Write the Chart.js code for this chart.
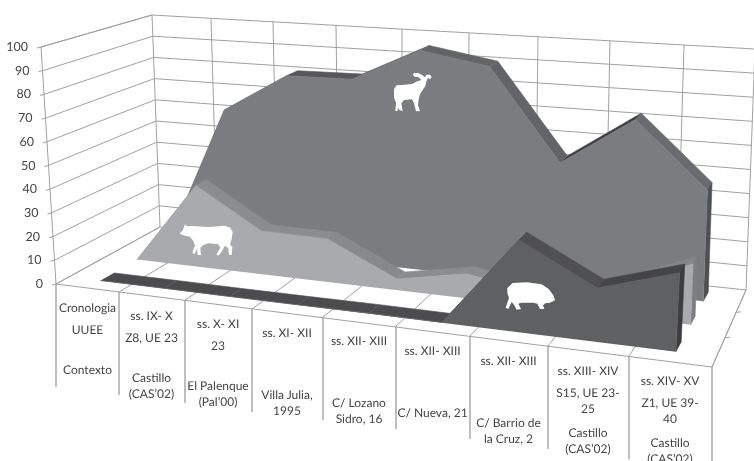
<!DOCTYPE html>
<html><head><meta charset="utf-8">
<style>html,body{margin:0;padding:0;background:#fff;overflow:hidden}canvas{display:block}</style>
<script src="https://cdn.jsdelivr.net/npm/chart.js@4"></script>
</head><body><canvas id="c" width="754" height="461" style="width:754px;height:461px"></canvas>
<script>
// ---- data ----
const cronologia = ["Cronologia","ss. IX- X","ss. X- XI","ss. XI- XII","ss. XII- XIII","ss. XII- XIII","ss. XII- XIII","ss. XIII- XIV","ss. XIV- XV"];
const uuee = [["UUEE"],["Z8, UE 23"],["23"],[],[],[],[],["S15, UE 23-","25"],["Z1, UE 39-","40"]];
const contexto = [["Contexto"],["Castillo","(CAS’02)"],["El Palenque","(Pal’00)"],["Villa Julia,","1995"],["C/ Lozano","Sidro, 16"],["C/ Nueva, 21"],["C/ Barrio de","la Cruz, 2"],["Castillo","(CAS’02)"],["Castillo","(CAS’02)"]];
const goat  = [0,62.5,80,80.5,95,90,51.5,72,45.5];
const sheep = [0,35.5,18.7,18.3,4.5,10,5,12,24];
const pig   = [0,0,0,0,0,0,36,20.7,30];
const yTicks = [0,10,20,30,40,50,60,70,80,90,100];

// ---- view frame of the 3D box ----
const frontX=[56,119,185,252,323,396,470,548,629,712];
const frontY=[284,292,300,309,317,326,336,346,356,367];
const backX=[152,211,273,336,402,469,538,610,684,755];
const PX=2.37, Y0=284;
const look=(a,c)=>{const i=Math.min(Math.floor(c),a.length-2);return a[i]+(a[i+1]-a[i])*(c-i)};
const mix=(a,b,t)=>a+(b-a)*t;
function screen(c,v,d){
  const fx=look(frontX,c),fy=look(frontY,c),tx=look(backX,c);
  const bbx=160+(tx-152)*586/603,bby=227+(bbx-160)*0.1075,bty=15+(tx-152)*0.0564;
  const ftx=41+(fx-56)*1.046,fty=47+(fx-56)*0.0777;
  const fl={x:mix(fx,bbx,d),y:mix(fy,bby,d)},tp={x:mix(ftx,tx,d),y:mix(fty,bty,d)};
  return {x:mix(fl.x,tp.x,v/100),y:mix(fl.y,tp.y,v/100)};
}
const toData=p=>({x:p.x,y:(Y0-p.y)/PX});
const P=(c,v,d)=>toData(screen(c,v,d));
const offs=(p,dx,dy)=>({x:p.x+dx,y:p.y-dy/PX});

const layers=[];
const line=(pts,col,w)=>layers.push({data:pts,borderColor:col,borderWidth:w,fill:false,pointRadius:0,tension:0,clip:false});
const poly=(pts,col)=>layers.push({data:pts,backgroundColor:col,borderColor:col,borderWidth:0.6,fill:'shape',pointRadius:0,tension:0,clip:false});

// walls and floor
const G='#a0a0a2';
yTicks.forEach(v=>{ line([P(0,v,0),P(0,v,1),P(9,v,1)],G,1);
  const a=P(0,v,0); line([offs(a,-4,1),a],G,1); });
for(let c=0;c<=9;c++){
  line([P(c,0,0),P(c,0,1),P(c,100,1)],G,1);
  const a=P(c,0,0);
  line([a,offs(a,0,103)],'#aaaaac',1.5);
}
line([P(0,0,0),P(9,0,0)],G,1);
line([P(0,0,0),P(0,100,0)],G,1);
line([P(0,100,0),P(0,100,1)],G,1);
line([P(9,0,0),P(9,0,1)],G,1);
[0.38,0.71].forEach(d=>{const a=P(9,0,d);line([a,offs(a,5,-0.5)],G,1)});

// one solid area: ribbon segments, end face, front face
function area(vals,d0,d1,face,rib,end){
  const n=vals.length,cs=vals.map((_,i)=>i+0.5);
  for(let i=0;i<n-1;i++)
    poly([P(cs[i],vals[i],d0),P(cs[i+1],vals[i+1],d0),P(cs[i+1],vals[i+1],d1),P(cs[i],vals[i],d1)],rib[i]);
  poly([P(cs[n-1],vals[n-1],d0),P(cs[n-1],vals[n-1],d1),P(cs[n-1],0,d1),P(cs[n-1],0,d0)],end);
  poly([P(cs[0],0,d0),...vals.map((v,i)=>P(cs[i],v,d0)),P(cs[n-1],0,d0)],face);
}
area(goat,0.8,0.92,'#7b7c7f',['#77787b','#6a6b6d','#57575a','#5d5e60','#636466','#636467','#3e3e40','#6a6b6e'],'#4f5052');
area(sheep,0.49,0.6,'#a9aaad',['#8a8b8d','#8b8c8e','#8b8c8e','#88898b','#8b8c8e','#8b8c8e','#8b8c8e','#85868a'],'#7d7e81');
area(pig,0.13,0.26,'#5f6062',['#4c4c4e','#4c4c4e','#4c4c4e','#4c4c4e','#4c4c4e','#4d4d4f','#505053','#454547'],'#3d3d3f');

const sheepShape=[14,56,24,44,30,28,36,34,52,33,100,36,150,32,166,38,173,52,170,72,165,88,172,96,170,120,162,120,160,100,150,92,140,110,130,122,124,118,136,98,130,88,100,85,85,90,76,98,78,120,68,120,66,102,58,118,52,112,60,92,55,78,45,65,30,62];
const goatShape=[18,70,26,58,50,56,72,54,88,46,100,42,92,34,80,32,74,26,80,20,92,22,104,28,110,34,116,26,126,26,131,33,126,40,120,36,116,44,112,60,104,72,96,85,92,100,90,118,96,135,84,136,78,112,72,100,48,102,40,112,44,135,34,132,30,125,28,136,22,134,24,110,18,95];
const pigShape=[22,30,38,15,80,13,125,19,147,34,160,52,165,67,150,74,136,76,129,82,133,93,120,93,112,77,100,74,65,74,55,77,63,93,50,95,42,80,35,72,25,93,17,89,27,60,22,45];

const overlay={id:'overlay',afterDatasetsDraw(ch){
  const ctx=ch.ctx,ys=ch.scales.y,xs=ch.scales.x;
  ctx.save();
  [[sheepShape,175,215],[goatShape,388,66],[pigShape,500,278]].forEach(([s,ox,oy])=>{
    ctx.beginPath();
    for(let i=0;i<s.length;i+=2){const X=ox+s[i]/3,Y=oy+s[i+1]/3;i?ctx.lineTo(X,Y):ctx.moveTo(X,Y);}
    ctx.closePath();ctx.fillStyle='#fff';ctx.fill();
  });
  ctx.fillStyle='#444';ctx.textBaseline='middle';
  ctx.textRendering='geometricPrecision';
  ctx.font='12.5px Lato';ctx.textAlign='right';
  yTicks.forEach(v=>{const p=P(0,v,0);ctx.fillText(String(v),xs.getPixelForValue(p.x)-13,ys.getPixelForValue(v));});
  ctx.font='12px Lato';ctx.textAlign='center';
  cronologia.forEach((t,i)=>{
    const p=P(i+0.5,0,0),X=xs.getPixelForValue(p.x)+(i==0?0:-0.5),Y=ys.getPixelForValue(p.y);
    ctx.fillText(t,X,Y+20);
    uuee[i].forEach((s,k)=>ctx.fillText(s,X,Y+42+16*k));
    contexto[i].forEach((s,k)=>ctx.fillText(s,X,Y+82+16*k));
  });
  ctx.restore();
}};

new Chart(document.getElementById('c'),{
  type:'line',
  data:{datasets:layers.slice().reverse()},
  options:{responsive:false,animation:false,devicePixelRatio:1,
    layout:{padding:0},
    plugins:{legend:{display:false},tooltip:{enabled:false}},
    events:[],
    scales:{
      x:{type:'linear',display:false,min:0,max:754},
      y:{type:'linear',display:false,min:(Y0-461)/PX,max:Y0/PX,afterBuildTicks(s){s.ticks=yTicks.map(v=>({value:v}));}}
    }},
  plugins:[overlay]
});
</script></body></html>
